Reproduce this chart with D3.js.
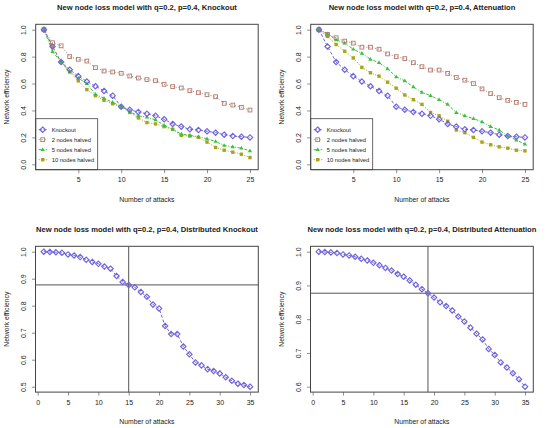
<!DOCTYPE html>
<html>
<head>
<meta charset="utf-8">
<script src="https://cdn.jsdelivr.net/npm/d3@7"></script>
<style>
  body { margin: 0; background: #fff; }
  svg text { font-family: "Liberation Sans", Arial, sans-serif; fill: #222; }
</style>
</head>
<body>
<div id="chart"></div>
<script>
const w = 550;
const h = 428;

// x values
const attacksTop = [1,2,3,4,5,6,7,8,9,10,11,12,13,14,15,16,17,18,19,20,21,22,23,24,25];
const attacksBottom = [1,2,3,4,5,6,7,8,9,10,11,12,13,14,15,16,17,18,19,20,21,22,23,24,25,26,27,28,29,30,31,32,33,34,35];

// Knockout series (same in both top panels)
const knockout = [1.0,0.875,0.76,0.703,0.655,0.615,0.58,0.545,0.51,0.428,0.405,0.388,0.375,0.36,0.335,0.30,0.28,0.26,0.255,0.245,0.235,0.22,0.21,0.205,0.20];

// top left: knockout with halved nodes
const koHalved2 = [1.0,0.903,0.88,0.80,0.78,0.767,0.718,0.693,0.686,0.676,0.656,0.641,0.629,0.621,0.594,0.577,0.567,0.547,0.532,0.517,0.502,0.453,0.44,0.423,0.403];
const koHalved5 = [1.0,0.837,0.76,0.69,0.64,0.60,0.52,0.49,0.46,0.43,0.39,0.36,0.35,0.33,0.29,0.26,0.225,0.215,0.205,0.19,0.17,0.14,0.13,0.12,0.10];
const koHalved10 = [1.0,0.87,0.76,0.685,0.62,0.555,0.51,0.475,0.45,0.425,0.385,0.345,0.31,0.30,0.28,0.26,0.215,0.21,0.20,0.165,0.125,0.105,0.09,0.075,0.05];

// top right: attenuation with halved nodes
const atHalved2 = [1.0,0.965,0.94,0.915,0.90,0.87,0.87,0.855,0.82,0.80,0.785,0.755,0.725,0.70,0.70,0.675,0.645,0.625,0.60,0.56,0.525,0.495,0.475,0.46,0.445];
const atHalved5 = [1.0,0.97,0.925,0.90,0.855,0.825,0.78,0.755,0.71,0.65,0.62,0.575,0.535,0.51,0.48,0.445,0.385,0.36,0.34,0.315,0.28,0.255,0.21,0.18,0.15];
const atHalved10 = [1.0,0.95,0.89,0.84,0.79,0.72,0.68,0.655,0.61,0.565,0.515,0.48,0.445,0.385,0.36,0.32,0.255,0.235,0.20,0.165,0.145,0.13,0.12,0.105,0.10];

// bottom: distributed
const distKnockout = [1.0,0.999,0.998,0.996,0.99,0.986,0.98,0.97,0.962,0.955,0.945,0.937,0.91,0.888,0.877,0.868,0.851,0.833,0.804,0.79,0.725,0.695,0.695,0.649,0.62,0.59,0.579,0.565,0.558,0.549,0.535,0.522,0.511,0.506,0.50];
const distAttenuation = [1.0,0.999,0.998,0.996,0.992,0.989,0.985,0.979,0.974,0.967,0.960,0.952,0.944,0.934,0.926,0.915,0.902,0.889,0.877,0.864,0.850,0.839,0.826,0.808,0.793,0.775,0.757,0.740,0.712,0.694,0.672,0.657,0.640,0.622,0.60];
const distKoCross = [15, 0.877];
const distAtCross = [19, 0.877];

const legendNames = ["Knockout","2 nodes halved","5 nodes halved","10 nodes halved"];
const topTicksX = [5,10,15,20,25];
const topTicksY = [0.0,0.2,0.4,0.6,0.8,1.0];
const bottomTicksX = [0,5,10,15,20,25,30,35];
const blTicksY = [0.5,0.6,0.7,0.8,0.9,1.0];
const brTicksY = [0.6,0.7,0.8,0.9,1.0];

const styles = [
  {color:"#6f64dc", shape:"diamond", dash:"3,2"},
  {color:"#b07a6c", shape:"square", dash:"1,2"},
  {color:"#3cbf3c", shape:"triangle", dash:"3,1.5,1,1.5"},
  {color:"#a8a418", shape:"fsquare", dash:"1,1.5"}
];

const svg = d3.select("#chart").append("svg")
  .attr("width", w).attr("height", h);

function marker(g, shape, color, x, y){
  if(shape === "diamond"){
    g.append("path").attr("d", `M${x},${y-2.7}L${x+2.7},${y}L${x},${y+2.7}L${x-2.7},${y}Z`)
      .attr("fill","none").attr("stroke",color).attr("stroke-width",1.15);
  } else if(shape === "square"){
    g.append("rect").attr("x",x-1.9).attr("y",y-1.9).attr("width",3.8).attr("height",3.8)
      .attr("fill","none").attr("stroke",color).attr("stroke-width",0.9);
  } else if(shape === "triangle"){
    g.append("path").attr("d", `M${x},${y-2.3}L${x+2.1},${y+1.4}L${x-2.1},${y+1.4}Z`)
      .attr("fill",color);
  } else {
    g.append("rect").attr("x",x-1.7).attr("y",y-1.7).attr("width",3.4).attr("height",3.4)
      .attr("fill",color);
  }
}

function panel(cfg){
  const g = svg.append("g");
  const x = d3.scaleLinear().domain(cfg.xDomain).range([cfg.left, cfg.right]);
  const y = d3.scaleLinear().domain(cfg.yDomain).range([cfg.bottom, cfg.top]);

  //Title
  g.append("text").attr("x",(cfg.left+cfg.right)/2).attr("y",cfg.titleY)
    .attr("text-anchor","middle").attr("font-weight","bold").attr("font-size",7.6)
    .text(cfg.title);

  //Axes: tick marks + labels
  const xAxis = g.append("g").attr("transform",`translate(0,${cfg.bottom})`)
    .call(d3.axisBottom(x).tickValues(cfg.xTicks).tickSize(3.5).tickPadding(4).tickFormat(d3.format("d")));
  xAxis.select(".domain").remove();
  xAxis.selectAll("line").attr("stroke","#444").attr("stroke-width",0.6);
  xAxis.selectAll("text").attr("font-size",7).attr("fill","#222");

  const yAxis = g.append("g").attr("transform",`translate(${cfg.left},0)`)
    .call(d3.axisLeft(y).tickValues(cfg.yTicks).tickSize(3.5).tickFormat(d3.format(".1f")));
  yAxis.select(".domain").remove();
  yAxis.selectAll("line").attr("stroke","#444").attr("stroke-width",0.6);
  yAxis.selectAll("text").attr("font-size",7).attr("fill","#222")
    .attr("x",null).attr("dy",null).attr("text-anchor","middle")
    .attr("transform",`translate(-12.5,0) rotate(-90)`)
    .attr("y",2.5);

  //Axis titles
  g.append("text").attr("x",(cfg.left+cfg.right)/2).attr("y",cfg.xlabY)
    .attr("text-anchor","middle").attr("font-size",6.8).text("Number of attacks");
  g.append("text").attr("transform",`translate(${cfg.left-27},${(cfg.top+cfg.bottom)/2}) rotate(-90)`)
    .attr("text-anchor","middle").attr("font-size",6.8).text("Network efficiency");

  //Crosshair
  if(cfg.cross){
    g.append("line").attr("x1",x(cfg.cross[0])).attr("x2",x(cfg.cross[0]))
      .attr("y1",cfg.top).attr("y2",cfg.bottom).attr("stroke","#555").attr("stroke-width",1);
    g.append("line").attr("x1",cfg.left).attr("x2",cfg.right)
      .attr("y1",y(cfg.cross[1])).attr("y2",y(cfg.cross[1])).attr("stroke","#555").attr("stroke-width",1);
  }

  //Series (drawn back to front)
  cfg.series.slice().reverse().forEach(s => {
    const line = d3.line().x((d,i) => x(cfg.xs[i])).y(d => y(d));
    g.append("path").attr("d",line(s.values)).attr("fill","none")
      .attr("stroke",s.style.color).attr("stroke-width",1).attr("stroke-dasharray",s.style.dash);
    s.values.forEach((v,i) => marker(g, s.style.shape, s.style.color, x(cfg.xs[i]), y(v)));
  });

  //Legend
  if(cfg.legend){
    const lg = g.append("g");
    const lw = 62, lh = 51;
    lg.append("rect").attr("x",cfg.left).attr("y",cfg.bottom-lh).attr("width",lw).attr("height",lh)
      .attr("fill","#fff").attr("stroke","#444").attr("stroke-width",0.8);
    cfg.series.forEach((s,i) => {
      const yy = cfg.bottom - lh + 11 + i*10;
      lg.append("line").attr("x1",cfg.left+3).attr("x2",cfg.left+11.5).attr("y1",yy).attr("y2",yy)
        .attr("stroke",s.style.color).attr("stroke-width",1).attr("stroke-dasharray",s.style.dash);
      marker(lg, s.style.shape, s.style.color, cfg.left+7, yy);
      lg.append("text").attr("x",cfg.left+16).attr("y",yy+2).attr("font-size",5.8).text(legendNames[i]);
    });
  }

  //Box
  g.append("rect").attr("x",cfg.left).attr("y",cfg.top)
    .attr("width",cfg.right-cfg.left).attr("height",cfg.bottom-cfg.top)
    .attr("fill","none").attr("stroke","#444").attr("stroke-width",1);
}

const topY = {top:24.3, bottom:169.7, yDomain:[-0.04,1.04], yTicks:topTicksY, titleY:9.5, xlabY:201.5,
  xDomain:[0.04,25.96], xTicks:topTicksX, xs:attacksTop, legend:true};
const botY = {top:246.3, bottom:392.1, titleY:231.5, xlabY:424,
  xDomain:[-0.36,36.36], xTicks:bottomTicksX, xs:attacksBottom, legend:false};

panel(Object.assign({}, topY, {left:35.7, right:258.2,
  title:"New node loss model with q=0.2, p=0.4, Knockout",
  series:[knockout,koHalved2,koHalved5,koHalved10].map((v,i) => ({values:v, style:styles[i]}))}));
panel(Object.assign({}, topY, {left:310.7, right:533.2,
  title:"New node loss model with q=0.2, p=0.4, Attenuation",
  series:[knockout,atHalved2,atHalved5,atHalved10].map((v,i) => ({values:v, style:styles[i]}))}));
panel(Object.assign({}, botY, {left:35.5, right:258.3, yDomain:[0.48,1.02], yTicks:blTicksY,
  title:"New node loss model with q=0.2, p=0.4, Distributed Knockout", cross:distKoCross,
  series:[{values:distKnockout, style:styles[0]}]}));
panel(Object.assign({}, botY, {left:310.5, right:533.3, yDomain:[0.584,1.016], yTicks:brTicksY,
  title:"New node loss model with q=0.2, p=0.4, Distributed Attenuation", cross:distAtCross,
  series:[{values:distAttenuation, style:styles[0]}]}));
</script>
</body>
</html>
